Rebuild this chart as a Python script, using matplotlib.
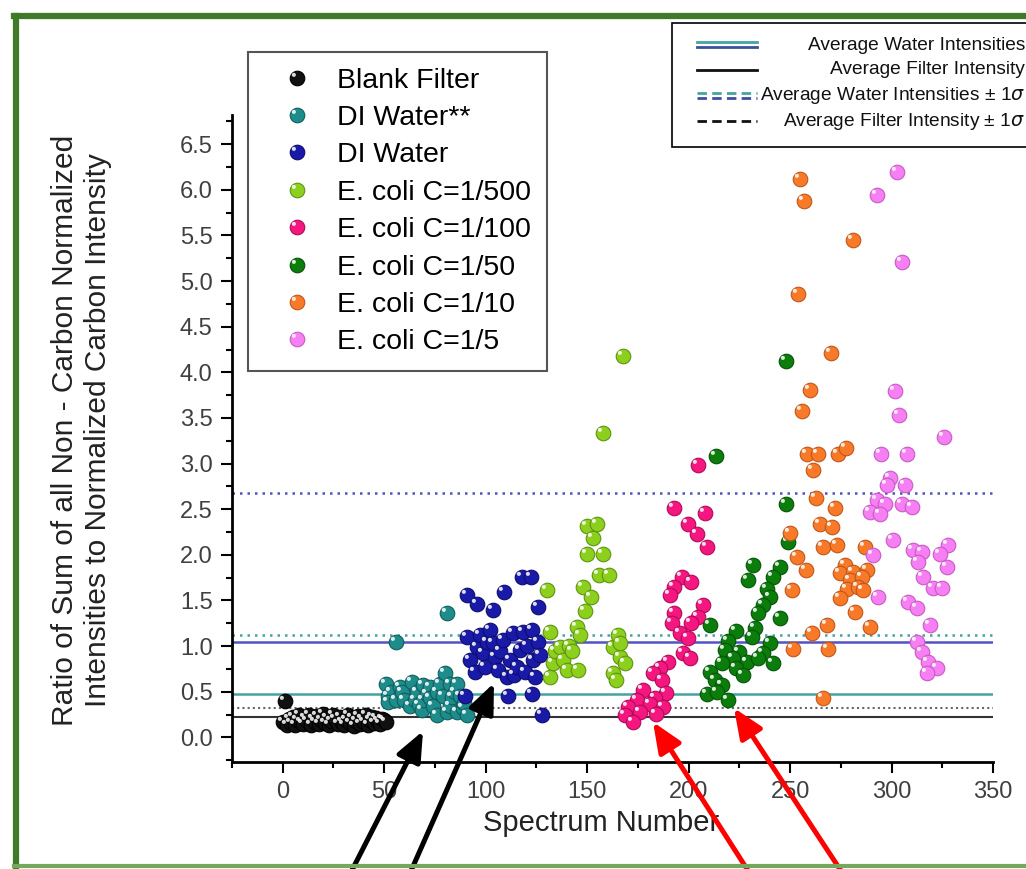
import numpy as np
import matplotlib
matplotlib.use("Agg")
import matplotlib.pyplot as plt
from matplotlib.path import Path
from matplotlib.lines import Line2D
from matplotlib.patches import Rectangle, FancyArrowPatch
from matplotlib.legend_handler import HandlerTuple

plt.rcParams['font.family'] = ['Liberation Sans', 'DejaVu Sans']

W, H = 1026, 869

# ---------- data ----------
blank_x = [0, 1, 2, 3, 4, 5, 6, 7, 8, 9, 10, 11, 12, 13, 14, 15, 16, 17, 18, 19, 20, 21, 22, 23, 24, 25,
           26, 27, 28, 29, 30, 31, 32, 33, 34, 35, 36, 37, 38, 39, 40, 41, 42, 43, 44, 45, 46, 47, 48, 49, 50, 51]
blank_y = [0.17, 0.40, 0.14, 0.20, 0.16, 0.22, 0.13, 0.19, 0.24, 0.17, 0.15, 0.21, 0.18, 0.25, 0.14, 0.20,
           0.17, 0.23, 0.15, 0.19, 0.26, 0.16, 0.21, 0.14, 0.18, 0.24, 0.20, 0.15, 0.22, 0.17, 0.13, 0.19,
           0.25, 0.16, 0.21, 0.12, 0.18, 0.23, 0.15, 0.20, 0.17, 0.24, 0.14, 0.19, 0.22, 0.16, 0.21, 0.18,
           0.15, 0.20, 0.19, 0.17]

di2_x = [51, 52, 53.5, 51.8, 56, 56, 58, 59, 60, 62.6, 63.5, 65, 66, 67, 68.5, 69, 69, 71, 72.4, 72.4,
         74, 75.9, 75.9, 77.4, 78.9, 79.8, 80.8, 81, 82.3, 82.3, 83.5, 84.8, 85.8, 86, 87.2, 88.7, 89.5, 90.7]
di2_y = [0.59, 0.45, 0.50, 0.39, 1.05, 0.41, 0.55, 0.50, 0.41, 0.34, 0.61, 0.41, 0.50, 0.36, 0.30, 0.57,
         0.41, 0.48, 0.55, 0.43, 0.34, 0.25, 0.50, 0.59, 0.45, 0.70, 1.36, 0.28, 0.59, 0.34, 0.44, 0.50,
         0.59, 0.28, 0.45, 0.32, 0.38, 0.25]

di_x = [91, 95.5, 103.5, 109, 118, 122.5, 125.7,
        90.7, 92.2, 94.6, 95.6, 97, 98.6, 99.5, 100.5, 102, 103.5, 104.5, 106, 107, 108.4, 110.4, 111.9,
        113.4, 114, 115.3, 116.8, 118.3, 119.3, 120.5, 122.7, 123.2, 124.5, 125.7, 127,
        89.7, 110.9, 122.7, 127.6]
di_y = [1.56, 1.46, 1.40, 1.59, 1.76, 1.76, 1.43,
        1.10, 0.85, 0.72, 0.99, 1.12, 0.92, 0.77, 1.05, 1.18, 1.03, 0.88, 0.74, 0.95, 1.07, 0.66, 0.85,
        1.14, 0.68, 0.77, 0.96, 1.16, 0.72, 1.00, 1.18, 0.85, 0.66, 1.05, 0.90,
        0.45, 0.45, 0.48, 0.24]

c500_x = [130, 131.6, 131.6, 133, 134, 136.5, 138, 140, 141, 142.4, 144.8, 145.4, 146.4, 148, 148.8,
          149.8, 150, 152, 152.9, 154.7, 156, 157.7, 157.8, 161, 162.6, 162.6, 164, 165, 166, 166, 167.6, 168.6]
c500_y = [1.61, 1.15, 0.66, 0.81, 0.95, 0.99, 0.85, 0.74, 1.00, 0.95, 1.21, 0.74, 1.12, 1.65, 1.39,
          2.01, 2.32, 1.54, 2.19, 2.34, 1.78, 3.34, 2.01, 1.78, 0.99, 0.70, 0.63, 1.12, 0.88, 1.03, 4.18, 0.81]

c100_x = [204.5, 193, 208, 199.7, 204, 209, 196.6, 201.4, 193, 190.7, 193, 207, 204.5, 191.7, 201.4,
          195.7, 199.6, 197, 200.6, 189.9, 185.8, 182.4, 186.7, 189.1, 177.4, 183.3, 174.4, 181, 187.4,
          170, 176, 168.5, 172.7, 184]
c100_y = [2.98, 2.51, 2.46, 2.34, 2.23, 2.09, 1.76, 1.70, 1.65, 1.56, 1.36, 1.45, 1.32, 1.25, 1.25,
          1.14, 1.09, 0.92, 0.87, 0.83, 0.76, 0.70, 0.63, 0.49, 0.52, 0.43, 0.41, 0.37, 0.33,
          0.33, 0.28, 0.24, 0.17, 0.26]

c50_x = [247.9, 213.4, 248, 249, 245, 210.4, 231.8, 229.4, 245, 241.6, 238.4, 240, 236.7, 234.3, 232.6,
         223.6, 231, 219.4, 240, 217.8, 225, 236.7, 221.8, 228.6, 241.6, 234.3, 216.4, 210.4, 223.6, 226.7,
         213, 216.4, 209, 213.9, 219.4]
c50_y = [4.12, 3.08, 2.56, 2.14, 1.31, 1.23, 1.89, 1.72, 1.87, 1.76, 1.63, 1.54, 1.45, 1.36, 1.20,
         1.17, 1.10, 1.06, 1.03, 0.96, 0.94, 0.92, 0.87, 0.83, 0.81, 0.87, 0.81, 0.72, 0.76, 0.68,
         0.63, 0.57, 0.47, 0.50, 0.41]

c10_x = [254.8, 256.8, 280.9, 253.8, 270, 259.7, 256, 258.5, 263.7, 273.5, 277.5, 261.4, 263, 272, 249.9,
         264.7, 270.5, 266, 273, 253.3, 258, 286.8, 277, 274.5, 281, 287.8, 279.4, 285.4, 277.9, 283.4,
         274.5, 285.9, 250.8, 281.9, 289.3, 268, 260.7, 251.4, 268.6, 266]
c10_y = [6.12, 5.88, 5.45, 4.86, 4.21, 3.81, 3.58, 3.10, 3.10, 3.10, 3.17, 2.93, 2.62, 2.51, 2.24,
         2.34, 2.30, 2.09, 2.11, 1.98, 1.83, 2.09, 1.89, 1.80, 1.81, 1.83, 1.72, 1.76, 1.63, 1.65,
         1.53, 1.61, 1.61, 1.37, 1.21, 1.23, 1.14, 0.97, 0.97, 0.43]

c5_x = [302.6, 292.8, 305, 301.6, 303.6, 325.8, 294.7, 307.5, 299, 297.6, 306.5, 292.7, 296.7, 305, 310,
        289.3, 294.2, 300.6, 327.7, 310.5, 314.9, 323.8, 290.8, 313, 327.2, 315.4, 320.4, 324.8, 293.2,
        308, 312.5, 318.9, 312.5, 314.9, 317.9, 322.3, 317.4]
c5_y = [6.19, 5.94, 5.21, 3.80, 3.53, 3.29, 3.10, 3.10, 2.84, 2.76, 2.76, 2.60, 2.56, 2.56, 2.52,
        2.47, 2.45, 2.16, 2.11, 2.05, 2.03, 2.01, 2.00, 1.92, 1.87, 1.76, 1.64, 1.64, 1.54,
        1.48, 1.42, 1.23, 1.05, 0.94, 0.83, 0.76, 0.70]

labels = ['Blank Filter', 'DI Water**', 'DI Water', 'E. coli C=1/500', 'E. coli C=1/100',
          'E. coli C=1/50', 'E. coli C=1/10', 'E. coli C=1/5']
colors = ['#111111', '#1f8c8c', '#1a1aa8', '#8ccf1c', '#f5167f', '#0b7d0b', '#f87a28', '#f67ff3']
edges = ['#000000', '#0f5e5e', '#0d0d6e', '#5e9410', '#b00a5a', '#05520a', '#c0561a', '#c85ac5']

filter_mean, filter_hi = 0.22, 0.32
water2_mean, water2_hi = 0.47, 1.12
water_mean, water_hi = 1.04, 2.68

# ---------- figure ----------
fig = plt.figure(figsize=(W / 100, H / 100), dpi=100)
ax = fig.add_axes([232 / W, 1 - 762 / H, (993 - 232) / W, (762 - 115) / H])

ax.axhline(filter_mean, color='#333333', lw=1.5, zorder=1)
ax.axhline(filter_hi, color='#666666', lw=1.5, ls=(0, (1, 1.5)), zorder=1)
ax.axhline(water2_mean, color='#45a3a3', lw=1.8, zorder=1)
ax.axhline(water2_hi, color='#45a3a3', lw=1.8, ls=(0, (1, 2)), zorder=1)
ax.axhline(water_mean, color='#5252c4', lw=1.8, zorder=1)
ax.axhline(water_hi, color='#5252c4', lw=1.8, ls=(0, (1, 2)), zorder=1)

# small shiny spot on each ball
circ = Path.circle(center=(-0.8, 0.8), radius=0.45)
hl_marker = Path(np.vstack([[[1.6, -1.6]], circ.vertices]), [Path.MOVETO] + list(circ.codes))

series = [(blank_x, blank_y), (di2_x, di2_y), (di_x, di_y), (c500_x, c500_y),
          (c100_x, c100_y), (c50_x, c50_y), (c10_x, c10_y), (c5_x, c5_y)]
handles = []
for (xs, ys), c, ec in zip(series, colors, edges):
    h1, = ax.plot(xs, ys, 'o', ms=10.5, mfc=c, mec=ec, mew=0.8, ls='none', zorder=3)
    h2, = ax.plot(xs, ys, marker=hl_marker, ms=10.5, mfc='white', mec='none', alpha=0.85,
                  ls='none', zorder=3)
    handles.append((h1, h2))

ax.set_xlim(-25, 350)
ax.set_ylim(-0.27, 6.82)
ax.set_xticks(np.arange(0, 351, 50))
ax.set_xticks(np.arange(-25, 351, 25), minor=True)
ax.set_yticks(np.arange(0, 6.51, 0.5))
ax.set_yticks(np.arange(-0.25, 6.8, 0.25), minor=True)
ax.set_yticklabels([f'{v:.1f}' for v in np.arange(0, 6.51, 0.5)])
for s in ['top', 'right']:
    ax.spines[s].set_visible(False)
for s in ['left', 'bottom']:
    ax.spines[s].set_linewidth(2)
ax.tick_params(which='major', direction='out', length=8, width=1.5, labelsize=17,
               labelcolor='#404040', pad=6)
ax.tick_params(which='minor', direction='out', length=4, width=1.5)

ax.set_xlabel('Spectrum Number', fontsize=21, color='#222222')
ax.xaxis.set_label_coords(0.485, -0.072)
ax.set_ylabel('Ratio of Sum of all Non - Carbon Normalized\nIntensities to Normalized Carbon Intensity',
              fontsize=21.5, color='#222222', linespacing=1.2)
ax.yaxis.set_label_coords(-0.158, 0.513)

leg = ax.legend(handles, labels, handler_map={tuple: HandlerTuple(ndivide=1)},
                loc='upper left', bbox_to_anchor=(248 / W, 1 - 52 / H), bbox_transform=fig.transFigure,
                borderaxespad=0, fancybox=False, edgecolor='#555555', framealpha=1, fontsize=20.5,
                handlelength=2.31, handletextpad=0.28, borderpad=0.55, labelspacing=0.40)
leg.get_frame().set_linewidth(1.5)

# ---------- second legend box (lines) ----------
def fx(x):
    return x / W

def fy(y):
    return 1 - y / H

fig.add_artist(Rectangle((fx(672), fy(147)), fx(1040) - fx(672), fy(23) - fy(147),
                         transform=fig.transFigure, facecolor='white', edgecolor='black',
                         lw=1.2, zorder=5, clip_on=False))
rows = [45, 70, 96, 121]
line_kw = dict(transform=fig.transFigure, lw=2, zorder=6)
fig.add_artist(Line2D([fx(697), fx(757)], [fy(42), fy(42)], color='#45a3a3', **line_kw))
fig.add_artist(Line2D([fx(697), fx(757)], [fy(47), fy(47)], color='#3a4fa0', **line_kw))
fig.add_artist(Line2D([fx(697), fx(757)], [fy(70), fy(70)], color='#111111', **line_kw))
fig.add_artist(Line2D([fx(697), fx(757)], [fy(93), fy(93)], color='#45a3a3', dashes=[3.4, 1.9], **line_kw))
fig.add_artist(Line2D([fx(697), fx(757)], [fy(98), fy(98)], color='#3a4fa0', dashes=[3.4, 1.9], **line_kw))
fig.add_artist(Line2D([fx(697), fx(757)], [fy(121), fy(121)], color='#111111', dashes=[3.4, 1.9], **line_kw))
texts = ['Average Water Intensities', 'Average Filter Intensity',
         'Average Water Intensities ± 1$\\sigma$', 'Average Filter Intensity ± 1$\\sigma$']
for y, t in zip(rows, texts):
    fig.text(fx(1025), fy(y), t, ha='right', va='center', fontsize=13.8, color='#111111', zorder=7)

# ---------- arrows ----------
arrows = [((347, 880), (423, 731), 'black'), ((407, 880), (494, 683), 'black'),
          ((754, 880), (653, 722), 'red'), ((847, 880), (734, 708), 'red')]
for (x0, y0), (x1, y1), c in arrows:
    fig.add_artist(FancyArrowPatch((fx(x0), fy(y0)), (fx(x1), fy(y1)), transform=fig.transFigure,
                                   arrowstyle='-|>,head_length=1.3,head_width=0.55', mutation_scale=14,
                                   color=c, lw=3.6, zorder=8, clip_on=False, shrinkA=0, shrinkB=0))

# ---------- green frame ----------
fig.add_artist(Line2D([fx(16), fx(16)], [fy(868), fy(16)], color='#3e7a27', lw=4.5,
                      transform=fig.transFigure, zorder=9))
fig.add_artist(Line2D([fx(14), 1.0], [fy(16), fy(16)], color='#3e7a27', lw=4.5,
                      transform=fig.transFigure, zorder=9))
fig.add_artist(Line2D([fx(14), 1.0], [fy(866), fy(866)], color='#74a85c', lw=3,
                      transform=fig.transFigure, zorder=9))

fig.savefig('out.png', dpi=100)
